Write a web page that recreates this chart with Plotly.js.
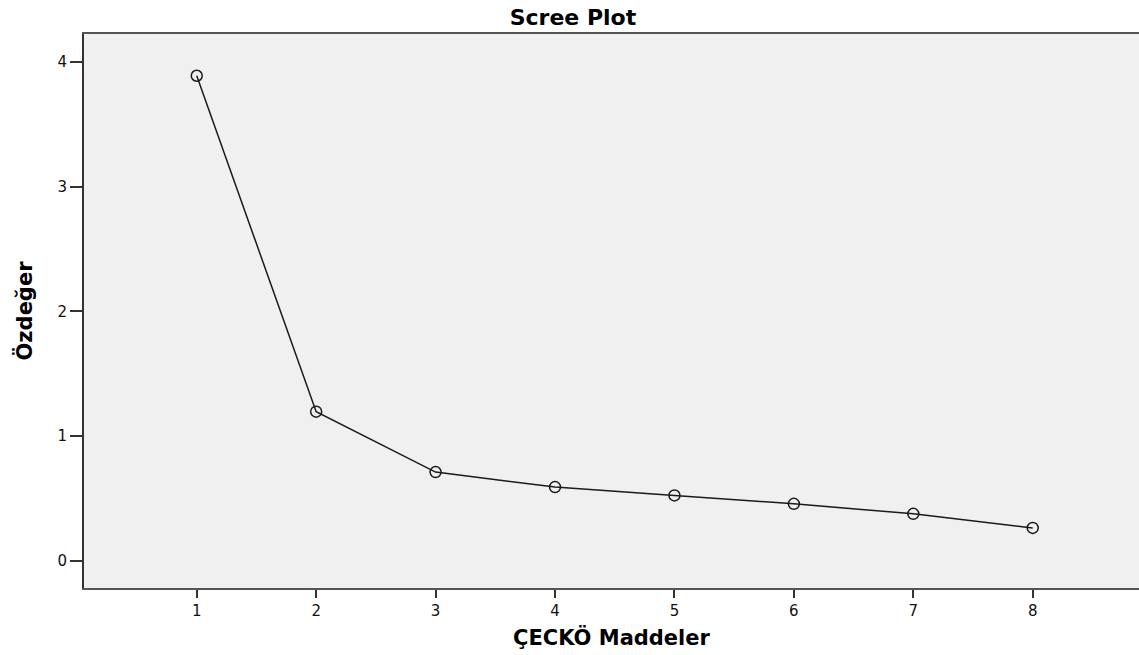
<!DOCTYPE html>
<html>
<head>
<meta charset="utf-8">
<script src="https://cdn.plot.ly/plotly-3.0.1.min.js"></script>
<style>html,body{margin:0;padding:0;background:#fff;}#chart{width:1139px;height:655px;}</style>
</head>
<body>
<div id="chart"></div>
<script>
var components = [1, 2, 3, 4, 5, 6, 7, 8];
var eigenvalues = [3.89, 1.195, 0.71, 0.59, 0.523, 0.455, 0.375, 0.262];
var xTicks = [1, 2, 3, 4, 5, 6, 7, 8];
var yTicks = [0, 1, 2, 3, 4];

var trace = {
  x: components,
  y: eigenvalues,
  type: 'scatter',
  mode: 'lines+markers',
  line: {color: '#1a1a1a', width: 1.5},
  marker: {symbol: 'circle-open', size: 11, color: '#1a1a1a', line: {width: 1.5, color: '#1a1a1a'}},
  hoverinfo: 'x+y',
  showlegend: false
};

var tickFont = {size: 15, family: 'DejaVu Sans, sans-serif', color: '#111'};
var titleFamily = 'DejaVu Sans, sans-serif';

var layout = {
  width: 1139,
  height: 655,
  paper_bgcolor: '#ffffff',
  plot_bgcolor: '#f0f0f0',
  margin: {l: 84, r: 0, t: 34, b: 67},
  font: {family: titleFamily, color: '#000'},
  title: {
    text: '<b>Scree Plot</b>',
    font: {size: 22, family: titleFamily, color: '#000'},
    x: 0.503, xanchor: 'center', xref: 'container',
    y: 0.973, yanchor: 'middle'
  },
  xaxis: {
    range: [0.056, 8.89],
    tickvals: xTicks,
    ticktext: xTicks.map(String),
    showgrid: false,
    zeroline: false,
    showline: true,
    linecolor: '#555',
    linewidth: 2,
    mirror: true,
    ticks: 'outside',
    ticklen: 8,
    tickwidth: 2,
    tickcolor: '#333',
    tickfont: tickFont,
    title: {text: '<b>ÇECKÖ Maddeler</b>', font: {size: 21, family: titleFamily, color: '#000'}, standoff: 11}
  },
  yaxis: {
    range: [-0.22, 4.225],
    tickvals: yTicks,
    ticktext: yTicks.map(String),
    showgrid: false,
    zeroline: false,
    showline: true,
    linecolor: '#333',
    linewidth: 2,
    ticks: 'outside',
    ticklen: 12,
    tickwidth: 2,
    tickcolor: '#333',
    tickfont: tickFont,
    title: {text: '<b>Özdeğer</b>', font: {size: 21, family: titleFamily, color: '#000'}, standoff: 19}
  }
};

Plotly.newPlot('chart', [trace], layout, {displayModeBar: false, staticPlot: true});
</script>
</body>
</html>
